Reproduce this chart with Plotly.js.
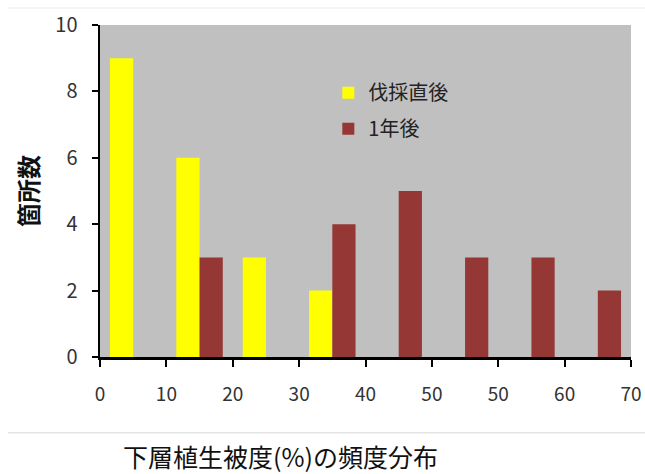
<!DOCTYPE html>
<html>
<head>
<meta charset="utf-8">
<script src="https://cdn.plot.ly/plotly-3.0.1.min.js"></script>
<style>html,body{margin:0;padding:0;background:#fff;}#chart{width:645px;height:474px;}</style>
</head>
<body>
<div id="chart"></div>
<script>
const categories = ["0-10", "10-20", "20-30", "30-40", "40-50", "50-60", "60-70", "70-80"];
const seriesNames = ["伐採直後", "1年後"];
const afterCutting = [9, 6, 3, 2, 0, 0, 0, 0];
const oneYearLater = [0, 3, 0, 4, 5, 3, 3, 2];
const xTickLabels = ["0", "10", "20", "30", "40", "50", "50", "60", "70"];
const yTickLabels = ["0", "2", "4", "6", "8", "10"];
const xTitle = '下層植生被度(%)の頻度分布';
const yTitle = '箇所数';

const centers = categories.map((c, i) => i + 0.5);
const fontFam = '"Noto Sans CJK JP", "Noto Sans", sans-serif';

const traces = [
  {type: 'bar', name: seriesNames[0], legendgroup: 'a', x: centers, y: afterCutting, marker: {color: '#ffff00'}, hovertext: categories, hoverinfo: 'text+y', textposition: 'none'},
  {type: 'bar', name: seriesNames[1], legendgroup: 'b', x: centers, y: oneYearLater, marker: {color: '#953735'}, hovertext: categories, hoverinfo: 'text+y', textposition: 'none'}
];

const layout = {
  width: 645, height: 474,
  margin: {l: 100, r: 14, t: 25, b: 117},
  paper_bgcolor: '#ffffff',
  plot_bgcolor: '#c0c0c0',
  barmode: 'group',
  bargap: 0.3,
  bargroupgap: 0,
  showlegend: true,
  legend: {x: 0.43, y: 0.855, xanchor: 'left', yanchor: 'top', bgcolor: 'rgba(0,0,0,0)',
           traceorder: 'grouped', tracegroupgap: 7,
           font: {family: fontFam, size: 20, color: '#222'}, itemwidth: 30},
  xaxis: {
    range: [0, categories.length],
    tickmode: 'array',
    tickvals: xTickLabels.map((t, i) => i),
    ticktext: xTickLabels,
    ticks: 'outside', ticklen: 7, tickwidth: 2, tickcolor: '#000',
    ticklabelstandoff: 12,
    showline: true, linecolor: '#000', linewidth: 2.5,
    showgrid: false, zeroline: false,
    tickfont: {family: fontFam, size: 19, color: '#333'}
  },
  yaxis: {
    range: [0, 10],
    tickmode: 'array',
    tickvals: yTickLabels.map(Number),
    ticktext: yTickLabels,
    ticks: 'outside', ticklen: 6, tickwidth: 2, tickcolor: '#000',
    ticklabelstandoff: 10,
    showline: true, linecolor: '#000', linewidth: 2.5,
    showgrid: false, zeroline: false,
    tickfont: {family: fontFam, size: 20, color: '#333'}
  },
  annotations: [
    {xref: 'paper', yref: 'paper', x: (280 - 100) / 531, y: -0.298, xanchor: 'center', yanchor: 'middle', showarrow: false,
     text: xTitle, font: {family: fontFam, size: 25, color: '#111'}},
    {xref: 'paper', yref: 'paper', x: (27 - 100) / 531, y: 0.5, xanchor: 'center', yanchor: 'middle', showarrow: false, textangle: -90,
     text: '<b>' + yTitle + '</b>', font: {family: fontFam, size: 24, color: '#111'}}
  ],
  shapes: [
    {type: 'line', xref: 'paper', yref: 'paper', x0: -0.173, x1: 1.03, y0: -0.228, y1: -0.228, line: {color: '#e4e4e4', width: 1.5}},
    {type: 'line', xref: 'paper', yref: 'paper', x0: -0.173, x1: 1.03, y0: 1.051, y1: 1.051, line: {color: '#f0f0f0', width: 1.5}}
  ]
};

Plotly.newPlot('chart', traces, layout, {displayModeBar: false, staticPlot: true});
</script>
</body>
</html>
